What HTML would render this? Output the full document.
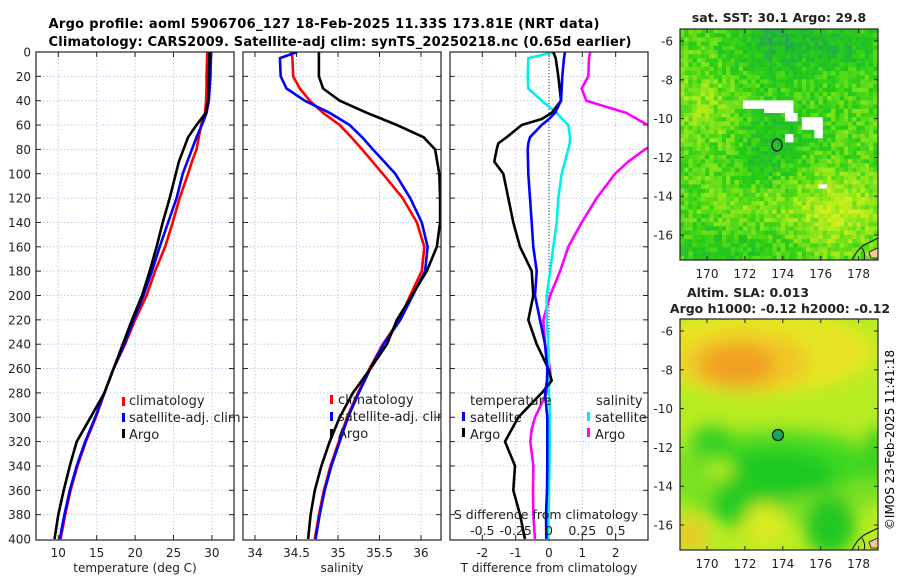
<!DOCTYPE html>
<html><head><meta charset="utf-8">
<style>
html,body{margin:0;padding:0;background:#fff;}
svg{display:block;font-family:"DejaVu Sans","Liberation Sans",sans-serif;}
</style></head>
<body>
<svg id="fig" width="900" height="580" viewBox="0 0 900 580" xmlns="http://www.w3.org/2000/svg">
<defs>
<clipPath id="c1"><rect x="36" y="52" width="198" height="488"/></clipPath>
<clipPath id="c2"><rect x="243" y="52" width="198" height="488"/></clipPath>
<clipPath id="c3"><rect x="450" y="52" width="198" height="488"/></clipPath>
<clipPath id="cm1"><rect x="680" y="29" width="198" height="231"/></clipPath>
<clipPath id="cm2"><rect x="680" y="319" width="198" height="231"/></clipPath>
<filter id="blur" x="-20%" y="-20%" width="140%" height="140%"><feGaussianBlur stdDeviation="8"/></filter>
</defs>
<text x="324" y="28" font-size="13" font-weight="bold" text-anchor="middle" textLength="551">Argo profile: aoml 5906706_127 18-Feb-2025 11.33S 173.81E (NRT data)</text>
<text x="340" y="46" font-size="13" font-weight="bold" text-anchor="middle" textLength="583">Climatology: CARS2009. Satellite-adj clim: synTS_20250218.nc (0.65d earlier)</text>
<g id="g1"></g>
<g id="g2"></g>
<g id="g3"></g>
<g id="m1"></g>
<g id="m2"></g>
<text transform="translate(894,440) rotate(-90)" font-size="12" text-anchor="middle">©IMOS 23-Feb-2025 11:41:18</text>
</svg>
<script>
// ---- data ----
const depthT = [0,10,20,30,40,50,60,70,80,90,100,120,140,160,180,200,220,240,260,280,300,320,340,360,380,400];
const tempClim = [29.4,29.35,29.3,29.3,29.25,29.1,28.6,28.3,28.0,27.4,26.9,25.8,24.9,23.9,22.6,21.5,20.0,18.7,17.2,16.0,14.9,13.6,12.5,11.6,10.9,10.3];
const tempSat = [29.9,29.85,29.8,29.7,29.6,29.3,28.7,28.0,27.4,26.8,26.2,25.4,24.3,23.2,22.2,21.1,19.8,18.6,17.2,16.0,14.8,13.5,12.4,11.5,10.8,10.2];
const tempArgo = [29.7,29.65,29.6,29.55,29.5,29.2,28.0,26.9,26.3,25.7,25.3,24.5,23.6,22.8,21.9,20.9,19.6,18.4,17.2,16.0,14.2,12.4,11.5,10.7,10.0,9.5];
const depthS = [0,5,20,30,40,50,60,70,80,100,120,140,160,180,200,220,240,260,280,300,320,340,360,380,400];
const salClim = [34.44,34.45,34.46,34.54,34.66,34.82,35.02,35.16,35.29,35.54,35.78,35.95,36.04,36.01,35.87,35.74,35.54,35.38,35.24,35.11,35.01,34.91,34.83,34.77,34.72];
const salSat = [34.51,34.3,34.31,34.38,34.6,34.9,35.14,35.29,35.42,35.69,35.87,36.01,36.08,36.05,35.9,35.75,35.55,35.39,35.25,35.12,35.02,34.92,34.84,34.78,34.73];
const salArgo = [34.77,34.77,34.77,34.82,35.02,35.35,35.71,36.03,36.17,36.22,36.23,36.23,36.19,36.07,35.89,35.71,35.59,35.39,35.18,35.02,34.9,34.8,34.72,34.67,34.64];
const depthD = [0,5,20,30,40,50,55,60,70,75,80,90,100,120,140,160,180,200,220,240,260,270,280,300,310,320,340,360,380,400];
const dTArgo = [0.13,0.2,0.28,0.32,0.36,0.08,-0.22,-0.82,-1.27,-1.52,-1.57,-1.64,-1.37,-1.22,-1.07,-0.87,-0.52,-0.47,-0.62,-0.37,-0.02,0.08,-0.22,-0.92,-1.12,-1.32,-1.02,-1.07,-0.87,-0.72];
const dTSat = [0.48,0.45,0.4,0.38,0.36,0.18,0.0,-0.22,-0.57,-0.62,-0.64,-0.63,-0.62,-0.57,-0.52,-0.47,-0.37,-0.42,-0.27,-0.12,-0.05,-0.06,-0.12,-0.05,-0.05,-0.05,-0.05,-0.06,-0.09,-0.08];
const dSSat = [0.045,-0.155,-0.16,-0.155,-0.055,0.058,0.1,0.145,0.158,0.155,0.145,0.12,0.095,0.07,0.058,0.032,0.008,-0.017,-0.017,-0.005,0.0,0.0,0.0,0.008,0.006,0.005,0.004,0.0,-0.003,-0.005];
const dSArgo = [0.31,0.3,0.295,0.245,0.28,0.58,0.66,0.74,0.85,0.8,0.72,0.595,0.495,0.358,0.245,0.145,0.083,0.008,-0.043,-0.03,0.008,0.012,-0.017,-0.105,-0.13,-0.14,-0.118,-0.12,-0.118,-0.105];
const depthTicks = [0,20,40,60,80,100,120,140,160,180,200,220,240,260,280,300,320,340,360,380,400];
const tTicks = [10,15,20,25,30];
const sTicks = [34,34.5,35,35.5,36];
const sTickLabels = ["34","34.5","35","35.5","36"];
const dTTicks = [-2,-1,0,1,2];
const dSTicks = [-0.5,-0.25,0,0.25,0.5];
const dSTickLabels = ["-0.5","-0.25","0","0.25","0.5"];
const mapLatTicks = [-6,-8,-10,-12,-14,-16];
const mapLonTicks = [170,172,174,176,178];

// ---- scales ----
const Y = d => 52 + d*1.2175;
const X1 = t => 58.3 + (t-10)*7.68;
const X2 = s => 255 + (s-34)*83;
const X3 = v => 549 + v*33.33;
const X3s = v => 549 + v*133.33;
const NS = "http://www.w3.org/2000/svg";
function mk(tag, attrs, parent){const e=document.createElementNS(NS,tag);for(const k in attrs)e.setAttribute(k,attrs[k]);parent.appendChild(e);return e;}

function frame(g, x0, xticks, xfn, clip, showY){
  const x1 = x0+198;
  xticks.forEach(v=>{
    const l=mk('line',{x1:xfn(v),x2:xfn(v),y1:52,y2:540,stroke:'#c4c8e6','stroke-width':1,'stroke-dasharray':'1.5,2'},g);
    
    
  });
  depthTicks.forEach(d=>{
    if(d===0||d===400) return;
    const l=mk('line',{x1:x0,x2:x1,y1:Y(d),y2:Y(d),stroke:'#c4c8e6','stroke-width':1,'stroke-dasharray':'1.5,2'},g);
    
    
    mk('line',{x1:x0,x2:x0+5,y1:Y(d),y2:Y(d),stroke:'#222'},g);
    mk('line',{x1:x1-5,x2:x1,y1:Y(d),y2:Y(d),stroke:'#222'},g);
  });
  xticks.forEach(v=>{mk('line',{x1:xfn(v),x2:xfn(v),y1:52,y2:57,stroke:'#222'},g);mk('line',{x1:xfn(v),x2:xfn(v),y1:535,y2:540,stroke:'#222'},g);});
  if(showY){
    depthTicks.forEach(d=>{
      const t=mk('text',{x:31,y:Y(d)+4.5,'font-size':12,'text-anchor':'end',fill:'#222'},g);
      t.textContent=d;
      
      
    });
  }
}
function border(g,x0,y0,w,h){const r=mk('rect',{x:x0,y:y0,width:w,height:h,fill:'none',stroke:'#222','stroke-width':1.2},g);}
function line(g, xs, ds, xfn, color, clip, name){
  const pts = xs.map((v,i)=>xfn(v).toFixed(1)+','+Y(ds[i]).toFixed(1)).join(' ');
  const p=mk('polyline',{points:pts,fill:'none',stroke:color,'stroke-width':2.6,'stroke-linejoin':'round','clip-path':'url(#'+clip+')'},g);
  
  
}
function txt(g,x,y,s,attrs,name){const t=mk('text',Object.assign({x:x,y:y,'font-size':12,fill:'#222'},attrs||{}),g);t.textContent=s;return t;}
function legBar(g,x,y,c){const r=mk('rect',{x:x,y:y,width:3,height:9,fill:c},g);}
const LF={'font-size':13};

// panel 1
const g1=document.getElementById('g1');
frame(g1,36,tTicks,X1,'c1',true);
line(g1,tempClim,depthT,X1,'#ff0000','c1','climatology-temp-line');
line(g1,tempSat,depthT,X1,'#0000ff','c1','satellite-temp-line');
line(g1,tempArgo,depthT,X1,'#000000','c1','argo-temp-line');
border(g1,36,52,198,488);
tTicks.forEach(v=>txt(g1,X1(v),557,String(v),{'text-anchor':'middle'},'temp-tick-label'));
txt(g1,135,572,'temperature (deg C)',{'text-anchor':'middle'},'temp-axis-title');
legBar(g1,122,397,'#f00');txt(g1,129,405,'climatology',LF,'legend-climatology');
legBar(g1,122,413,'#00f');txt(g1,129,422,'satellite-adj. clim',LF,'legend-satellite');
legBar(g1,122,429,'#000');txt(g1,129,439,'Argo',LF,'legend-argo');

// panel 2
const g2=document.getElementById('g2');
frame(g2,243,sTicks,X2,'c2',false);
line(g2,salClim,depthS,X2,'#ff0000','c2','climatology-sal-line');
line(g2,salSat,depthS,X2,'#0000ff','c2','satellite-sal-line');
line(g2,salArgo,depthS,X2,'#000000','c2','argo-sal-line');
border(g2,243,52,198,488);
sTicks.forEach((v,i)=>txt(g2,X2(v),557,sTickLabels[i],{'text-anchor':'middle'},'sal-tick-label'));
txt(g2,342,572,'salinity',{'text-anchor':'middle'},'sal-axis-title');
legBar(g2,330,395,'#f00');txt(g2,338,404,'climatology',LF,'legend-climatology');
legBar(g2,330,412,'#00f');txt(g2,338,421,'satellite-adj. clim',LF,'legend-satellite');
legBar(g2,330,429,'#000');txt(g2,338,438,'Argo',LF,'legend-argo');
mk('rect',{x:441.6,y:400,width:7.8,height:30,fill:'#fff'},g2);

// panel 3
const g3=document.getElementById('g3');
frame(g3,450,dTTicks,X3,'c3',false);
const zl=mk('line',{x1:549,x2:549,y1:52,y2:540,stroke:'#333','stroke-width':1,'stroke-dasharray':'1,2'},g3);


line(g3,dSArgo,depthD,X3s,'#ff00ff','c3','argo-sal-diff-line');
line(g3,dSSat,depthD,X3s,'#00eeee','c3','satellite-sal-diff-line');
line(g3,dTArgo,depthD,X3,'#000000','c3','argo-temp-diff-line');
line(g3,dTSat,depthD,X3,'#0000ff','c3','satellite-temp-diff-line');
border(g3,450,52,198,488);
dTTicks.forEach(v=>txt(g3,X3(v),557,String(v),{'text-anchor':'middle'},'dt-tick-label'));
txt(g3,549,572,'T difference from climatology',{'text-anchor':'middle'},'dt-axis-title');
txt(g3,546,519,'S difference from climatology',{'text-anchor':'middle','font-size':12.5},'ds-axis-title');
dSTicks.forEach((v,i)=>txt(g3,X3s(v),535,dSTickLabels[i],{'text-anchor':'middle','font-size':12.5},'ds-tick-label'));
txt(g3,470,405,'temperature',LF,'legend-temperature-header');
legBar(g3,462,412,'#00f');txt(g3,470,422,'satellite',LF,'legend-temp-satellite');
legBar(g3,462,428,'#000');txt(g3,470,439,'Argo',LF,'legend-temp-argo');
txt(g3,596,405,'salinity',LF,'legend-salinity-header');
legBar(g3,587,412,'#0ee');txt(g3,595,422,'satellite',LF,'legend-sal-satellite');
legBar(g3,587,428,'#f0f');txt(g3,595,439,'Argo',LF,'legend-sal-argo');

// ---- maps ----
function hash(i,j){let h=(i*374761393+j*668265263)^0x5bd1e995;h=(h^(h>>>13))*1274126177;h=h^(h>>>16);return ((h>>>0)%1000)/1000;}
const pal=[[40,160,90],[30,190,40],[40,205,20],[110,225,25],[175,235,25],[220,240,30],[235,200,40]];
function col(v){v=Math.max(0,Math.min(pal.length-1.001,v));const i=Math.floor(v),f=v-i;const a=pal[i],b=pal[i+1];return 'rgb('+a.map((c,k)=>Math.round(c+(b[k]-c)*f)).join(',')+')';}
function g(x,y,cx,cy,sx,sy){return Math.exp(-((x-cx)*(x-cx)/(2*sx*sx)+(y-cy)*(y-cy)/(2*sy*sy)));}
const m1=document.getElementById('m1');
const cellsG=mk('g',{'clip-path':'url(#cm1)'},m1);
for(let x=680;x<878;x+=4.2){for(let y=29;y<260;y+=4.2){
  const i=Math.round((x-680)/4.2), j=Math.round((y-29)/4.2);
  let v=2.5 + 1.6*g(x,y,835,210,35,30) + 1.0*g(x,y,700,105,25,25) + 0.8*g(x,y,745,200,30,25)
      -1.6*g(x,y,770,40,30,20) -1.2*g(x,y,840,45,30,20) -1.0*g(x,y,775,130,25,30) -1.0*g(x,y,730,245,40,15) -0.8*g(x,y,755,170,20,20)
      +(hash(i,j)-0.5)*1.7;
  let c=col(v);
  if((x>742&&x<763&&y>97&&y<106)||(x>762&&x<793&&y>99&&y<112)||(x>783&&x<796&&y>112&&y<120)||(x>785&&x<793&&y>134&&y<142)||(x>799&&x<822&&y>117&&y<128)||(x>812&&x<822&&y>127&&y<135)||(x>818&&x<823&&y>183&&y<188)) c='#ffffff';
  mk('rect',{x:x.toFixed(1),y:y.toFixed(1),width:4.4,height:4.4,fill:c},cellsG);
}}
function land(m,yb){
  const p=mk('path',{d:`M852 ${yb} Q858 ${yb-12} 866 ${yb-16} L878 ${yb-22} M862 ${yb-12} Q866 ${yb-6} 864 ${yb}`,fill:'none',stroke:'#111','stroke-width':1},m);
  
  
  mk('path',{d:`M869 ${yb-8} L878 ${yb-12} L878 ${yb-2} L871 ${yb-2} Z`,fill:'#f5c79a',stroke:'#111','stroke-width':0.8},m);
}
land(m1,260);
function mapAxes(m,y0,latY){
  border(m,680,y0,198,231);
  mapLatTicks.forEach(v=>{const y=latY(v);mk('line',{x1:680,x2:684,y1:y,y2:y,stroke:'#222'},m);mk('line',{x1:874,x2:878,y1:y,y2:y,stroke:'#222'},m);
    txt(m,673,y+4.5,String(v),{'text-anchor':'end'},'lat-tick-label');});
  mapLonTicks.forEach(v=>{const x=707+(v-170)*18.95;mk('line',{x1:x,x2:x,y1:y0+227,y2:y0+231,stroke:'#222'},m);mk('line',{x1:x,x2:x,y1:y0,y2:y0+4,stroke:'#222'},m);
    txt(m,x,y0+249,String(v),{'text-anchor':'middle'},'lon-tick-label');});
}
mapAxes(m1,29,v=>41+(-6-v)*19.4);
const c1=mk('ellipse',{cx:777,cy:145,rx:5,ry:6,fill:'none',stroke:'#111','stroke-width':1.2},m1);


txt(m1,779,22,'sat. SST: 30.1 Argo: 29.8',{'text-anchor':'middle','font-weight':'bold','font-size':12.5},'sst-map-title');

const m2=document.getElementById('m2');
const bg=mk('g',{'clip-path':'url(#cm2)'},m2);
mk('rect',{x:680,y:319,width:198,height:231,fill:'#b8ec22'},bg);
const bl=mk('g',{filter:'url(#blur)'},bg);
[['#e6e424',760,352,115,42],['#f0c828',745,362,65,30],['#f0a024',738,365,38,20],['#e8cc28',690,535,18,18],
 ['#7ae024',780,475,120,48],['#3cd820',785,465,85,30],['#1ec822',775,475,60,24],['#26cc22',745,505,35,22],['#22c822',830,525,25,30],['#3cd020',878,455,14,28],['#36d020',712,440,22,14],['#b0ea22',720,470,15,10],['#d8ea24',765,525,22,22]]
 .forEach(a=>mk('ellipse',{cx:a[1],cy:a[2],rx:a[3],ry:a[4],fill:a[0]},bl));
land(m2,550);
mapAxes(m2,319,v=>331+(-6-v)*19.4);
const c2=mk('circle',{cx:778,cy:435,r:5.5,fill:'#1aa860',stroke:'#111','stroke-width':1.2},m2);


txt(m2,748,297,'Altim. SLA: 0.013',{'text-anchor':'middle','font-weight':'bold','font-size':12.5},'sla-map-title');
txt(m2,780,313,'Argo h1000: -0.12 h2000: -0.12',{'text-anchor':'middle','font-weight':'bold','font-size':12.5},'sla-map-subtitle');
</script>
</body></html>
